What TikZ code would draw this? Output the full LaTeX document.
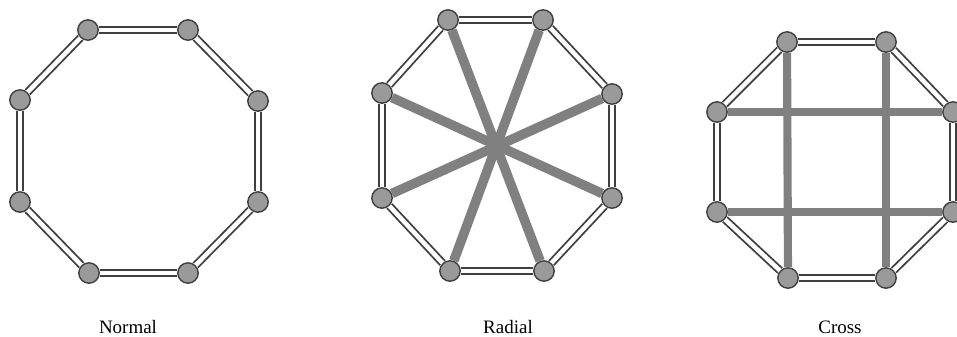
\documentclass[tikz,border=0pt]{standalone}
\usepackage{fontspec}
\setmainfont{Liberation Serif}
\usepackage{xcolor}
\usepackage{tikz}
\usetikzlibrary{positioning}

\definecolor{rimgray}{HTML}{3F3F3F}
\definecolor{dotgray}{HTML}{9A9A9A}
\definecolor{bargray}{HTML}{808080}

\begin{document}
\begin{tikzpicture}[
  x=0.25mm, y=-0.25mm,
  dot/.style={circle, draw=rimgray, fill=dotgray, line width=1pt,
              minimum size=14.5pt, inner sep=0pt},
  rim/.style={draw=rimgray, line width=1.3pt, double=white, double distance=3.2pt},
  spoke/.style={draw=bargray, line width=6.8pt},
  bar/.style={draw=bargray, line width=5.8pt},
  caption/.style={anchor=base, font=\fontsize{13.5}{15}\selectfont}
]
  \useasboundingbox (0,0) rectangle (957,336);

  % Normal
  \node[dot] (n1) at (88,30) {};
  \node[dot] (n2) at (188,30) {};
  \node[dot] (n3) at (258,101) {};
  \node[dot] (n4) at (258,202) {};
  \node[dot] (n5) at (188,273) {};
  \node[dot] (n6) at (89,273) {};
  \node[dot] (n7) at (20,202) {};
  \node[dot] (n8) at (20,100) {};
  \foreach \a/\b in {1/2,2/3,3/4,4/5,5/6,6/7,7/8,8/1}
    \draw[rim] (n\a) -- (n\b);

  % Radial
  \node[dot] (r1) at (448,20) {};
  \node[dot] (r2) at (543,20) {};
  \node[dot] (r3) at (612,94) {};
  \node[dot] (r4) at (612,198) {};
  \node[dot] (r5) at (544,271) {};
  \node[dot] (r6) at (450,271) {};
  \node[dot] (r7) at (382,198) {};
  \node[dot] (r8) at (382,93) {};
  \foreach \a/\b in {1/2,2/3,3/4,4/5,5/6,6/7,7/8,8/1}
    \draw[rim] (r\a) -- (r\b);
  \foreach \a/\b in {1/5,2/6,3/7,4/8}
    \draw[spoke] (r\a) -- (r\b);

  % Cross
  \node[dot] (c1) at (787,42) {};
  \node[dot] (c2) at (886,42) {};
  \node[dot] (c3) at (953,112) {};
  \node[dot] (c4) at (953,212) {};
  \node[dot] (c5) at (886,278) {};
  \node[dot] (c6) at (788,278) {};
  \node[dot] (c7) at (717,212) {};
  \node[dot] (c8) at (717,112) {};
  \foreach \a/\b in {1/2,2/3,3/4,4/5,5/6,6/7,7/8,8/1}
    \draw[rim] (c\a) -- (c\b);
  \foreach \a/\b in {1/6,2/5,8/3,7/4}
    \draw[bar] (c\a) -- (c\b);

  \node[caption] (normal) at (128,333) {Normal};
  \node[caption] (radial) at (508,333) {Radial};
  \node[caption] (cross) at (840,333) {Cross};
\end{tikzpicture}
\end{document}
